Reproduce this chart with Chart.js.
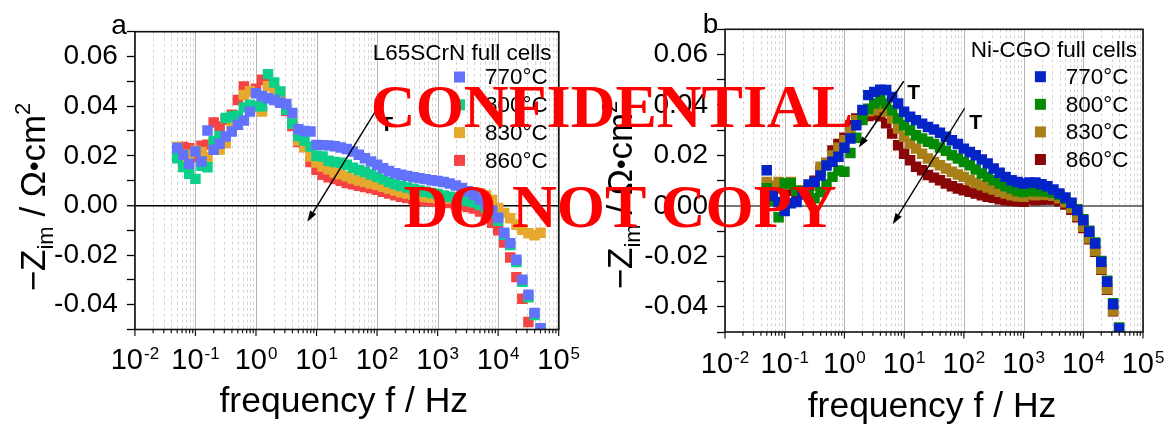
<!DOCTYPE html>
<html><head><meta charset="utf-8">
<script src="https://cdn.jsdelivr.net/npm/chart.js@4.4.1/dist/chart.umd.min.js"></script>
<style>
html,body{margin:0;padding:0;background:#fff;width:1166px;height:424px;overflow:hidden}
.wrap{position:absolute;top:0;width:583px;height:424px}
.wm{position:absolute;color:#ff0000;font-family:"Liberation Serif","Times New Roman",serif;font-weight:bold;font-size:62px;line-height:62px;white-space:nowrap;transform:translateX(-50%)}
</style></head><body>
<div class="wrap" style="left:0"><canvas id="chartA" width="583" height="424"></canvas></div>
<div class="wrap" style="left:583px"><canvas id="chartB" width="583" height="424"></canvas></div>
<div class="wm" style="left:612px;top:75px">CONFIDENTIAL</div>
<div class="wm" style="left:620px;top:175px">DO NOT COPY</div>
<script>
// ---------- data ----------
const freqHz = [0.05, 0.063, 0.079, 0.1, 0.126, 0.158, 0.2, 0.251, 0.316, 0.398,
  0.501, 0.631, 0.794, 1, 1.26, 1.58, 2, 2.51, 3.16, 3.98,
  5.01, 6.31, 7.94, 10, 12.6, 15.8, 20, 25.1, 31.6, 39.8,
  50.1, 63.1, 79.4, 100, 126, 158, 200, 251, 316, 398,
  501, 631, 794, 1000, 1260, 1580, 2000, 2510, 3160, 3980,
  5010, 6310, 7940, 10000, 12600, 15800, 20000, 25100, 31600, 39800, 50100];

const seriesLabels = ['770°C', '800°C', '830°C', '860°C'];

// panel a : L65SCrN full cells
const a770 = [0.0231, 0.0204, 0.0168, 0.0217, 0.0177, 0.0302, 0.0224, 0.0248, 0.0278, 0.0298,
  0.0325, 0.0342, 0.0378, 0.0452, 0.0441, 0.0432, 0.0425, 0.0414, 0.0409, 0.0372,
  0.0307, 0.0300, 0.0298, 0.0244, 0.0243, 0.0242, 0.0238, 0.0233, 0.0227, 0.0217,
  0.0204, 0.0190, 0.0177, 0.0164, 0.0150, 0.0139, 0.0130, 0.0124, 0.0119, 0.0114,
  0.0110, 0.0106, 0.0101, 0.0098, 0.0094, 0.0088, 0.0080, 0.0070, 0.0057, 0.0042,
  0.0024, 0.0004, -0.0020, -0.0050, -0.0110, -0.0152, -0.0219, -0.0299, -0.0360, -0.0433, -0.0495];
const a800 = [0.0190, 0.0155, 0.0128, 0.0107, 0.0160, 0.0154, 0.0260, 0.0280, 0.0352, 0.0358,
  0.0362, 0.0395, 0.0405, 0.0400, 0.0400, 0.0529, 0.0495, 0.0459, 0.0385, 0.0330,
  0.0280, 0.0262, 0.0237, 0.0200, 0.0197, 0.0180, 0.0175, 0.0172, 0.0164, 0.0152,
  0.0143, 0.0135, 0.0125, 0.0115, 0.0105, 0.0094, 0.0085, 0.0078, 0.0072, 0.0066,
  0.0060, 0.0055, 0.0050, 0.0046, 0.0040, 0.0035, 0.0030, 0.0024, 0.0018, 0.0012,
  0.0002, -0.0008, -0.0030, -0.0062, -0.0118, -0.0160, -0.0228, -0.0308, -0.0370, -0.0442, -0.0498];
const a830 = [0.0235, 0.0164, 0.0205, 0.0220, 0.0215, 0.0195, 0.0240, 0.0225, 0.0250, 0.0330,
  0.0360, 0.0445, 0.0460, 0.0395, 0.0378, 0.0480, 0.0465, 0.0450, 0.0395, 0.0330,
  0.0262, 0.0235, 0.0197, 0.0173, 0.0157, 0.0146, 0.0133, 0.0126, 0.0117, 0.0108,
  0.0100, 0.0095, 0.0088, 0.0083, 0.0075, 0.0068, 0.0060, 0.0053, 0.0048, 0.0043,
  0.0038, 0.0034, 0.0031, 0.0029, 0.0028, 0.0030, 0.0033, 0.0038, 0.0045, 0.0050,
  0.0048, 0.0040, 0.0022, -0.0010, -0.0030, -0.0052, -0.0078, -0.0098, -0.0112, -0.0120, -0.0110];
const a860 = [0.0215, 0.0235, 0.0230, 0.0195, 0.0240, 0.0245, 0.0334, 0.0318, 0.0345, 0.0365,
  0.0425, 0.0479, 0.0460, 0.0470, 0.0506, 0.0490, 0.0440, 0.0420, 0.0380, 0.0320,
  0.0255, 0.0235, 0.0175, 0.0144, 0.0123, 0.0113, 0.0106, 0.0099, 0.0090, 0.0085,
  0.0079, 0.0074, 0.0069, 0.0063, 0.0055, 0.0048, 0.0041, 0.0035, 0.0030, 0.0025,
  0.0021, 0.0018, 0.0016, 0.0015, 0.0013, 0.0010, 0.0005, 0.0000, -0.0006, -0.0012,
  -0.0025, -0.0044, -0.0070, -0.0100, -0.0150, -0.0210, -0.0289, -0.0376, -0.0470];

// panel b : Ni-CGO full cells
const b770 = [0.0141, 0.0040, 0.0015, -0.0020, 0.0010, 0.0015, 0.0045, 0.0085, 0.0095, 0.0120,
  0.0160, 0.0175, 0.0195, 0.0230, 0.0267, 0.0320, 0.0380, 0.0439, 0.0452, 0.0460,
  0.0459, 0.0432, 0.0406, 0.0373, 0.0353, 0.0340, 0.0326, 0.0313, 0.0303, 0.0290,
  0.0274, 0.0260, 0.0245, 0.0227, 0.0214, 0.0201, 0.0184, 0.0168, 0.0148, 0.0131,
  0.0115, 0.0102, 0.0095, 0.0089, 0.0093, 0.0093, 0.0086, 0.0078, 0.0065, 0.0049,
  0.0033, 0.0012, -0.0017, -0.0057, -0.0103, -0.0149, -0.0222, -0.0301, -0.0390, -0.0486];
const b800 = [0.0070, 0.0020, -0.0045, 0.0090, 0.0090, 0.0060, 0.0050, 0.0050, 0.0030, 0.0055,
  0.0085, 0.0115, 0.0140, 0.0135, 0.0210, 0.0270, 0.0340, 0.0385, 0.0406, 0.0419,
  0.0406, 0.0379, 0.0346, 0.0320, 0.0300, 0.0280, 0.0267, 0.0254, 0.0245, 0.0231,
  0.0218, 0.0201, 0.0188, 0.0174, 0.0161, 0.0144, 0.0128, 0.0115, 0.0102, 0.0089,
  0.0078, 0.0069, 0.0059, 0.0055, 0.0062, 0.0058, 0.0058, 0.0057, 0.0052, 0.0043,
  0.0028, 0.0010, -0.0013, -0.0053, -0.0099, -0.0145, -0.0218, -0.0297, -0.0386, -0.0482];
const b830 = [0.0095, 0.0080, 0.0095, 0.0085, 0.0095, 0.0060, 0.0050, 0.0065, 0.0080, 0.0155,
  0.0170, 0.0200, 0.0230, 0.0260, 0.0300, 0.0340, 0.0365, 0.0375, 0.0379, 0.0392,
  0.0373, 0.0346, 0.0307, 0.0274, 0.0247, 0.0227, 0.0207, 0.0188, 0.0174, 0.0161,
  0.0148, 0.0135, 0.0124, 0.0115, 0.0102, 0.0091, 0.0082, 0.0073, 0.0065, 0.0056,
  0.0049, 0.0042, 0.0038, 0.0036, 0.0046, 0.0042, 0.0045, 0.0043, 0.0040, 0.0030,
  0.0014, -0.0008, -0.0040, -0.0083, -0.0128, -0.0178, -0.0250, -0.0330, -0.0415];
const b860 = [0.0050, 0.0035, 0.0070, 0.0080, 0.0060, 0.0050, 0.0060, 0.0070, 0.0100, 0.0140,
  0.0170, 0.0220, 0.0245, 0.0270, 0.0320, 0.0346, 0.0355, 0.0356, 0.0360, 0.0355,
  0.0327, 0.0287, 0.0240, 0.0207, 0.0181, 0.0155, 0.0141, 0.0122, 0.0112, 0.0102,
  0.0089, 0.0078, 0.0069, 0.0062, 0.0056, 0.0049, 0.0042, 0.0036, 0.0032, 0.0026,
  0.0022, 0.0020, 0.0018, 0.0016, 0.0025, 0.0022, 0.0024, 0.0025, 0.0025, 0.0018,
  0.0005, -0.0015, -0.0045, -0.0088, -0.0132, -0.0182, -0.0253, -0.0333, -0.0418];

// axis ticks
const xDecades = [0.01, 0.1, 1, 10, 100, 1000, 10000, 100000];
const xTickExponents = ['-2', '-1', '0', '1', '2', '3', '4', '5'];
const yTicks = [-0.05, -0.04, -0.03, -0.02, -0.01, 0, 0.01, 0.02, 0.03, 0.04, 0.05, 0.06, 0.07];
const yLabeled = [-0.04, -0.02, 0, 0.02, 0.04, 0.06];

// annotations (data units: [frequency, value])
const arrowsA = [{from: [138, 0.0445], to: [7.06, -0.0066]}];
const tMarksA = [[144, 0.0329]];
const arrowsB = [{from: [9.84, 0.0494], to: [1.74, 0.0231]}, {from: [103, 0.0387], to: [6.44, -0.0073]}];
const tMarksB = [[14.5, 0.0451], [157, 0.0332]];

// ---------- drawing ----------
const FONT = '"Liberation Sans", Arial, Helvetica, sans-serif';

function makeChart(id, o) {
  const datasets = o.series.map((s, i) => ({
    label: seriesLabels[i],
    data: s.map((v, j) => ({x: freqHz[j], y: v})),
    showLine: false,
    pointStyle: 'rect',
    pointRadius: 7.4,
    pointHoverRadius: 7.4,
    pointBorderWidth: 0,
    backgroundColor: o.colors[i],
    borderColor: o.colors[i]
  }));
  const A = o.area;
  const deco = {
    id: 'deco_' + id,
    beforeDraw(chart) {
      const {ctx, chartArea: a, scales: {x}} = chart;
      ctx.save();
      ctx.lineWidth = 1;
      for (let d = 0; d < xDecades.length; d++) {
        const dec = xDecades[d];
        const px = Math.round(x.getPixelForValue(dec)) + 0.5;
        ctx.setLineDash([]); ctx.strokeStyle = '#b5b5b5';
        ctx.beginPath(); ctx.moveTo(px, a.top); ctx.lineTo(px, a.bottom); ctx.stroke();
        if (d < xDecades.length - 1) {
          for (let m = 2; m <= 9; m++) {
            const mx = Math.round(x.getPixelForValue(m * dec)) + 0.5;
            ctx.setLineDash([3, 3]); ctx.strokeStyle = '#d3d3d3';
            ctx.beginPath(); ctx.moveTo(mx, a.top); ctx.lineTo(mx, a.bottom); ctx.stroke();
          }
        }
      }
      ctx.restore();
    },
    afterDraw(chart) {
      const {ctx, chartArea: a, scales: {x, y}} = chart;
      ctx.save();
      // frame
      ctx.setLineDash([]);
      ctx.strokeStyle = '#111'; ctx.lineWidth = 1.6;
      ctx.strokeRect(a.left, a.top, a.right - a.left, a.bottom - a.top);
      // x tick marks
      ctx.lineWidth = 1.2;
      for (let d = 0; d < xDecades.length; d++) {
        const dec = xDecades[d];
        const px = x.getPixelForValue(dec);
        ctx.beginPath(); ctx.moveTo(px, a.bottom); ctx.lineTo(px, a.bottom + 6.5); ctx.stroke();
        if (d < xDecades.length - 1) {
          for (let m = 2; m <= 9; m++) {
            const mx = x.getPixelForValue(m * dec);
            ctx.beginPath(); ctx.moveTo(mx, a.bottom); ctx.lineTo(mx, a.bottom + 3.7); ctx.stroke();
          }
        }
      }
      // x tick labels 10^n
      ctx.fillStyle = '#000';
      ctx.textBaseline = 'alphabetic'; ctx.textAlign = 'left';
      const yb = a.bottom + o.xLabelOffset;
      for (let d = 0; d < xDecades.length; d++) {
        const px = x.getPixelForValue(xDecades[d]);
        ctx.font = '29px ' + FONT;
        const w1 = ctx.measureText('10').width;
        ctx.font = '17px ' + FONT;
        const w2 = ctx.measureText(xTickExponents[d]).width;
        const sx = px - (w1 + w2 + 1) / 2;
        ctx.font = '29px ' + FONT;
        ctx.fillText('10', sx, yb);
        ctx.font = '17px ' + FONT;
        ctx.fillText(xTickExponents[d], sx + w1 + 1, yb - 10);
      }
      // x title
      ctx.font = '35.5px ' + FONT;
      ctx.textAlign = 'center';
      ctx.fillText('frequency f / Hz', (a.left + a.right) / 2 + o.xTitleShift, o.xTitleBaseline);
      // y title (rotated, with sub/superscript)
      ctx.save();
      ctx.translate(o.yTitleX, o.yTitleCenter);
      ctx.rotate(-Math.PI / 2);
      ctx.textAlign = 'left';
      const parts = [
        {t: '\u2212Z', f: 35, dy: 0},
        {t: 'im', f: 22, dy: 8},
        {t: ' / \u03A9', f: 35, dy: 0},
        {t: '\u2022', f: 27, dy: -2},
        {t: 'cm', f: 35, dy: 0},
        {t: '2', f: 22, dy: -15}
      ];
      let tw = 0;
      parts.forEach(p => { ctx.font = p.f + 'px ' + FONT; p.w = ctx.measureText(p.t).width; tw += p.w; });
      let cx = -tw / 2;
      parts.forEach(p => { ctx.font = p.f + 'px ' + FONT; ctx.fillText(p.t, cx, p.dy); cx += p.w; });
      ctx.restore();
      // panel letter
      ctx.font = '28px ' + FONT;
      ctx.textAlign = 'center';
      ctx.fillText(o.letter, o.letterX, o.letterY);
      // legend
      ctx.font = '22.5px ' + FONT;
      ctx.textAlign = 'right';
      ctx.fillText(o.legendTitle, o.legend.titleRight, o.legend.titleBaseline);
      ctx.textAlign = 'left'; ctx.textBaseline = 'middle';
      chart.data.datasets.forEach((ds, i) => {
        const cy = o.legend.firstY + i * o.legend.step;
        ctx.fillStyle = ds.backgroundColor;
        ctx.fillRect(o.legend.markerX - 5.5, cy - 5.5, 11, 11);
        ctx.fillStyle = '#000';
        ctx.fillText(ds.label, o.legend.textX, cy + 1);
      });
      // arrows
      ctx.strokeStyle = '#000'; ctx.fillStyle = '#000'; ctx.lineWidth = 1.4;
      o.arrows.forEach(ar => {
        const x1 = x.getPixelForValue(ar.from[0]), y1 = y.getPixelForValue(ar.from[1]);
        const x2 = x.getPixelForValue(ar.to[0]), y2 = y.getPixelForValue(ar.to[1]);
        const ang = Math.atan2(y2 - y1, x2 - x1);
        const L = 11, W = 3.6;
        const bx = x2 - L * Math.cos(ang), by = y2 - L * Math.sin(ang);
        ctx.beginPath(); ctx.moveTo(x1, y1); ctx.lineTo(bx, by); ctx.stroke();
        ctx.beginPath();
        ctx.moveTo(x2, y2);
        ctx.lineTo(bx + W * Math.sin(ang), by - W * Math.cos(ang));
        ctx.lineTo(bx - W * Math.sin(ang), by + W * Math.cos(ang));
        ctx.closePath(); ctx.fill();
      });
      ctx.font = 'bold 21px ' + FONT;
      ctx.textAlign = 'center'; ctx.textBaseline = 'middle';
      o.tMarks.forEach(t => {
        ctx.fillText('T', x.getPixelForValue(t[0]), y.getPixelForValue(t[1]) + 1);
      });
      ctx.restore();
    }
  };
  return new Chart(document.getElementById(id), {
    type: 'scatter',
    data: {datasets},
    options: {
      responsive: false,
      animation: false,
      devicePixelRatio: 1,
      events: [],
      layout: {padding: {top: A.top, right: 583 - A.right, left: 0, bottom: 0}},
      plugins: {legend: {display: false}, tooltip: {enabled: false}},
      scales: {
        x: {
          type: 'logarithmic', min: 0.01, max: 100000,
          ticks: {display: false}, grid: {display: false}, border: {display: false},
          afterFit: s => { s.height = 424 - A.bottom; }
        },
        y: {
          type: 'linear', min: -0.05, max: 0.07,
          afterBuildTicks: s => { s.ticks = yTicks.map(v => ({value: v})); },
          ticks: {
            autoSkip: false, padding: 9, color: '#000',
            font: {family: FONT, size: 28},
            callback: v => yLabeled.some(t => Math.abs(t - v) < 1e-9) ? (Math.round(v * 100) / 100).toFixed(2) : ''
          },
          grid: {
            drawOnChartArea: true, drawTicks: true, tickLength: 8, tickWidth: 1.3, tickColor: '#000',
            color: c => (c.tick && Math.abs(c.tick.value) < 1e-9) ? o.zeroColor : 'rgba(0,0,0,0)',
            lineWidth: c => (c.tick && Math.abs(c.tick.value) < 1e-9) ? o.zeroWidth : 1
          },
          border: {display: false},
          afterFit: s => { s.width = A.left; }
        }
      }
    },
    plugins: [deco]
  });
}

makeChart('chartA', {
  series: [a770, a800, a830, a860],
  colors: ['#6272fa', '#0ccf8a', '#e6a92e', '#f54242'],
  area: {left: 134.9, top: 31.7, right: 558.7, bottom: 329.5},
  zeroColor: '#000', zeroWidth: 1.5,
  xLabelOffset: 39, xTitleBaseline: 412, xTitleShift: -3,
  yTitleX: 45, yTitleCenter: 197,
  letter: 'a', letterX: 119, letterY: 34,
  legendTitle: 'L65SCrN full cells',
  legend: {titleRight: 551.5, titleBaseline: 60, markerX: 459.5, textX: 485, firstY: 77, step: 27.8},
  arrows: arrowsA, tMarks: tMarksA
});

makeChart('chartB', {
  series: [b770, b800, b830, b860],
  colors: ['#0424c8', '#048a04', '#a97f18', '#8a0505'],
  area: {left: 142, top: 29.3, right: 560, bottom: 332},
  zeroColor: '#777', zeroWidth: 2,
  xLabelOffset: 40.5, xTitleBaseline: 417, xTitleShift: -2,
  yTitleX: 49, yTitleCenter: 195,
  letter: 'b', letterX: 127.5, letterY: 33,
  legendTitle: 'Ni-CGO full cells',
  legend: {titleRight: 554, titleBaseline: 56.5, markerX: 457.4, textX: 482.8, firstY: 76.7, step: 27.6},
  arrows: arrowsB, tMarks: tMarksB
});
</script>
</body></html>
